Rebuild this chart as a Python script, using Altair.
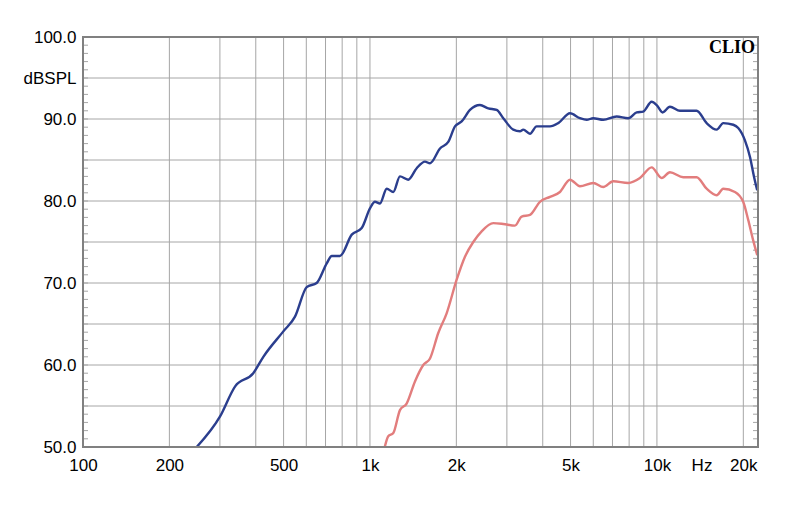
import altair as alt
import pandas as pd

# Upper (blue) response: frequency in Hz, level in dB SPL
blue_f = [249, 300, 339, 392, 425, 499, 548, 602, 652, 707, 736, 786, 864, 936, 1000,
          1041, 1083, 1144, 1206, 1272, 1359, 1455, 1555, 1619, 1754, 1874, 1978, 2087,
          2231, 2417, 2584, 2764, 2914, 3158, 3332, 3421, 3610, 3808, 4239, 4531, 4978,
          5392, 5690, 5998, 6501, 7237, 7943, 8500, 8960, 9583, 9977, 10469, 11100, 12030,
          13750, 14900, 16150, 17020, 18450, 19200, 20260, 21090, 21780, 22360]
blue_db = [50.0, 53.7, 57.4, 59.0, 61.0, 64.1, 65.9, 69.5, 70.0, 72.4, 73.3, 73.3, 75.9, 76.7, 79.1,
           79.9, 79.7, 81.5, 81.1, 83.0, 82.6, 84.0, 84.8, 84.6, 86.4, 87.2, 89.1, 89.7,
           91.1, 91.7, 91.3, 91.1, 90.1, 88.7, 88.5, 88.7, 88.2, 89.1, 89.1, 89.5, 90.7,
           90.1, 89.9, 90.1, 89.9, 90.3, 90.1, 90.8, 90.9, 92.1, 91.7, 90.8, 91.5, 91.0,
           91.0, 89.5, 88.7, 89.5, 89.3, 88.9, 87.4, 85.4, 83.0, 81.3]

# Lower (red) response
red_f = [1128, 1158, 1206, 1272, 1342, 1435, 1534, 1619, 1730, 1850, 2005, 2143, 2291, 2450,
         2689, 2914, 3201, 3378, 3610, 3911, 4239, 4592, 4978, 5392, 5998, 6501, 7042, 7943,
         8727, 9583, 10385, 11100, 12350, 13750, 14900, 16150, 17020, 18700, 19980, 20800,
         21650, 22360]
red_db = [50.1, 51.3, 51.7, 54.5, 55.3, 58.0, 60.0, 60.8, 63.9, 66.3, 70.4, 73.2, 75.0, 76.3,
          77.3, 77.2, 77.0, 78.1, 78.3, 79.9, 80.5, 81.1, 82.6, 81.8, 82.2, 81.7, 82.4, 82.2,
          82.8, 84.1, 82.8, 83.5, 82.9, 82.9, 81.5, 80.7, 81.5, 81.1, 79.9, 77.7,
          75.2, 73.4]

x_label_values = [100, 200, 500, 1000, 2000, 5000, 10000, 14300, 20000]
x_label_texts = ["100", "200", "500", "1k", "2k", "5k", "10k", "Hz", "20k"]
y_label_values = [50, 60, 70, 80, 90, 95, 100]
y_label_texts = ["50.0", "60.0", "70.0", "80.0", "90.0", "dBSPL", "100.0"]

grid_f = [200, 300, 400, 500, 600, 700, 800, 900, 1000, 2000, 3000, 4000, 5000,
          6000, 7000, 8000, 9000, 10000, 20000]
grid_db = [55, 60, 65, 70, 75, 80, 85, 90, 95]
minor_db = list(range(51, 100))

W, H = 675, 410

def label_expr(values, texts):
    expr = "''"
    for v, t in zip(reversed(values), reversed(texts)):
        expr = f"datum.value == {v} ? '{t}' : ({expr})"
    return expr

xscale = alt.Scale(type="log", domain=[100, 22500], nice=False)
yscale = alt.Scale(domain=[50, 100], nice=False, zero=False)

xaxis = alt.Axis(values=x_label_values, labelExpr=label_expr(x_label_values, x_label_texts),
                 grid=False, ticks=False, domain=False, title=None,
                 labelFont="Liberation Sans", labelFontSize=17, labelColor="black",
                 labelPadding=10, labelFlush=False, labelOverlap=False)
yaxis = alt.Axis(values=y_label_values, labelExpr=label_expr(y_label_values, y_label_texts),
                 grid=False, ticks=False, domain=False, title=None,
                 labelFont="Liberation Sans", labelFontSize=17, labelColor="black",
                 labelPadding=7, labelFlush=False, labelOverlap=False)

X = alt.X("f:Q", scale=xscale, axis=xaxis)
Y = alt.Y("db:Q", scale=yscale, axis=yaxis)

vgrid = alt.Chart(pd.DataFrame({"f": grid_f})).mark_rule(color="#a6a6a6", strokeWidth=1).encode(x=X)
hgrid = alt.Chart(pd.DataFrame({"db": grid_db})).mark_rule(color="#a6a6a6", strokeWidth=1).encode(y=Y)
minor_l = alt.Chart(pd.DataFrame({"db": minor_db})).mark_rule(color="#a6a6a6", strokeWidth=1).encode(
    y=Y, x=alt.value(0), x2=alt.value(5))
minor_r = alt.Chart(pd.DataFrame({"db": minor_db})).mark_rule(color="#a6a6a6", strokeWidth=1).encode(
    y=Y, x=alt.value(W - 5), x2=alt.value(W))

blue = alt.Chart(pd.DataFrame({"f": blue_f, "db": blue_db})).mark_line(
    color="#2b3e8e", strokeWidth=2.4, clip=True, interpolate="monotone").encode(x=X, y=Y)
red = alt.Chart(pd.DataFrame({"f": red_f, "db": red_db})).mark_line(
    color="#e27d7d", strokeWidth=2.4, clip=True, interpolate="monotone").encode(x=X, y=Y)

clio = alt.Chart(pd.DataFrame({"t": ["CLIO"]})).mark_text(
    font="Liberation Serif", fontSize=18, fontWeight="bold", color="black",
    align="right", baseline="alphabetic").encode(
    text="t:N", x=alt.value(W - 3), y=alt.value(16))

frame = alt.Chart(pd.DataFrame({"t": [0]})).mark_rect(
    fill=None, stroke="#808080", strokeWidth=2).encode(
    x=alt.value(0), x2=alt.value(W), y=alt.value(0), y2=alt.value(H))

chart = alt.layer(vgrid, hgrid, minor_l, minor_r, red, blue, frame, clio).properties(
    width=W, height=H,
    autosize=alt.AutoSizeParams(type="none"),
    padding={"left": 75, "top": 29, "right": 30, "bottom": 48},
    background="white",
).configure_view(stroke=None)

chart.save("out.html", embed_options={"renderer": "svg", "actions": False})
